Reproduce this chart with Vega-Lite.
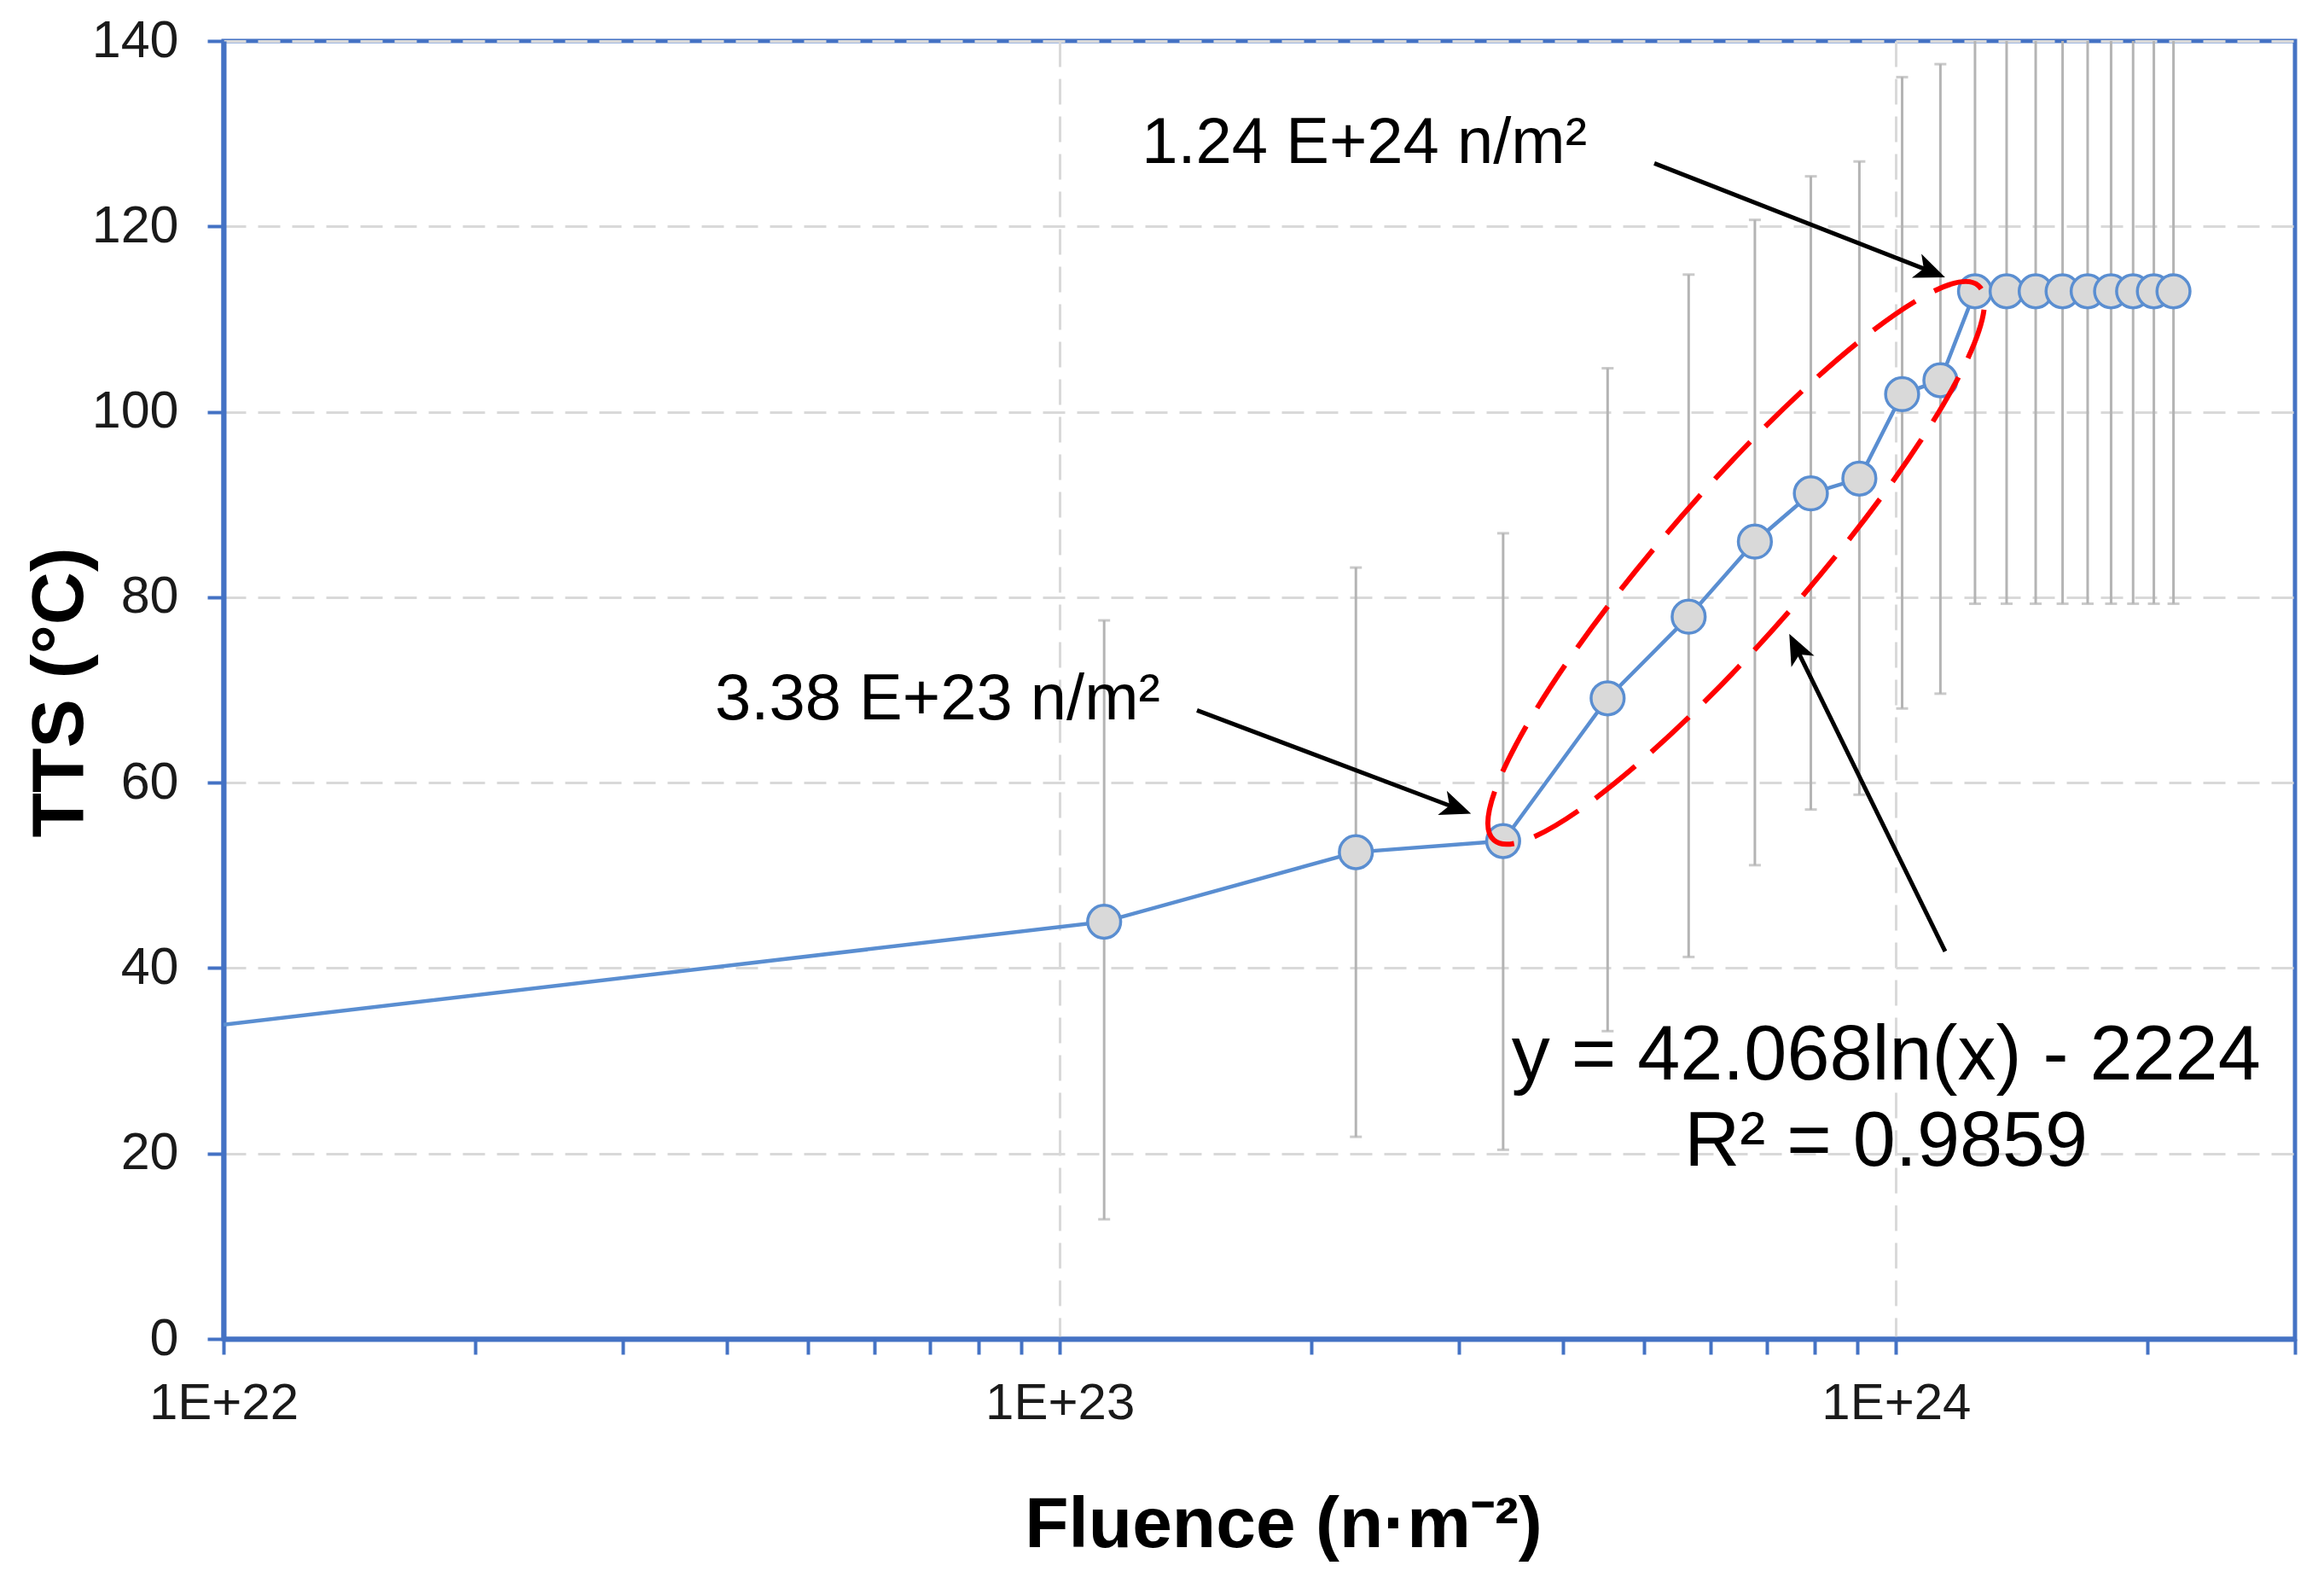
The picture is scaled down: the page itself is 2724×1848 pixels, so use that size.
{
  "$schema": "https://vega.github.io/schema/vega-lite/v6.json",
  "width": 2428,
  "height": 1521,
  "autosize": {"type": "none"},
  "padding": {"left": 262, "top": 48, "right": 34, "bottom": 279},
  "background": "white",
  "config": {
    "view": {"stroke": "#4472c4", "strokeWidth": 5},
    "font": "Liberation Sans"
  },
  "datasets": {
    "series": [
      {"fluence": 1e22, "tts": 33.9, "lo": null, "hi": null},
      {"fluence": 1.13e23, "tts": 45.0, "lo": 12.9, "hi": 77.5},
      {"fluence": 2.26e23, "tts": 52.5, "lo": 21.8, "hi": 83.2},
      {"fluence": 3.39e23, "tts": 53.7, "lo": 20.4, "hi": 86.9},
      {"fluence": 4.52e23, "tts": 69.1, "lo": 33.2, "hi": 104.7},
      {"fluence": 5.65e23, "tts": 77.9, "lo": 41.2, "hi": 114.8},
      {"fluence": 6.78e23, "tts": 86.0, "lo": 51.1, "hi": 120.7},
      {"fluence": 7.91e23, "tts": 91.2, "lo": 57.1, "hi": 125.4},
      {"fluence": 9.04e23, "tts": 92.8, "lo": 58.7, "hi": 127.0},
      {"fluence": 1.017e24, "tts": 101.9, "lo": 68.0, "hi": 136.1},
      {"fluence": 1.13e24, "tts": 103.4, "lo": 69.6, "hi": 137.5},
      {"fluence": 1.243e24, "tts": 113.0, "lo": 79.3, "hi": 146.7},
      {"fluence": 1.356e24, "tts": 113.0, "lo": 79.3, "hi": 146.7},
      {"fluence": 1.469e24, "tts": 113.0, "lo": 79.3, "hi": 146.7},
      {"fluence": 1.582e24, "tts": 113.0, "lo": 79.3, "hi": 146.7},
      {"fluence": 1.695e24, "tts": 113.0, "lo": 79.3, "hi": 146.7},
      {"fluence": 1.808e24, "tts": 113.0, "lo": 79.3, "hi": 146.7},
      {"fluence": 1.921e24, "tts": 113.0, "lo": 79.3, "hi": 146.7},
      {"fluence": 2.034e24, "tts": 113.0, "lo": 79.3, "hi": 146.7},
      {"fluence": 2.147e24, "tts": 113.0, "lo": 79.3, "hi": 146.7}
    ],
    "arrows": [
      {"name": "a1", "x1": 5.14e23, "y1": 126.8, "x2": 1.096e24, "y2": 115.2},
      {"name": "a2", "x1": 1.459e23, "y1": 67.8, "x2": 2.97e23, "y2": 57.3},
      {"name": "a3", "x1": 1.145e24, "y1": 41.8, "x2": 7.61e23, "y2": 74.4}
    ],
    "ellipse": [{"fluence": 6.44e23, "tts": 83.7}],
    "labels": [
      {"text": "1.24 E+24 n/m²", "fluence": 1.253e23, "tts": 126.8},
      {"text": "3.38 E+23 n/m²", "fluence": 3.87e22, "tts": 66.8}
    ],
    "fit": [
      {"text": "y = 42.068ln(x) - 2224", "fluence": 9.73e23, "tts": 28.0},
      {"text": "R² = 0.9859", "fluence": 9.73e23, "tts": 18.7}
    ]
  },
  "layer": [
    {
      "data": {"name": "series"},
      "transform": [{"filter": "isValid(datum.lo)"}],
      "mark": {"type": "rule", "color": "#b4b4b4", "strokeWidth": 3, "clip": true},
      "encoding": {
        "x": {
          "field": "fluence", "type": "quantitative",
          "scale": {"type": "log", "domain": [1e22, 3e24], "nice": false},
          "axis": {
            "values": [1e22, 2e22, 3e22, 4e22, 5e22, 6e22, 7e22, 8e22, 9e22, 1e23, 2e23, 3e23, 4e23, 5e23, 6e23, 7e23, 8e23, 9e23, 1e24, 2e24, 3e24],
            "labelExpr": "datum.value == 1e22 ? '1E+22' : datum.value == 1e23 ? '1E+23' : datum.value == 1e24 ? '1E+24' : ''",
            "labelFont": "Liberation Sans", "labelFontSize": 60, "labelColor": "#1a1a1a",
            "labelPadding": 28, "labelBaseline": "top", "labelOverlap": false, "labelFlush": false,
            "tickColor": "#4472c4", "tickSize": 18, "tickWidth": 4,
            "domainColor": "#4472c4", "domainWidth": 6,
            "grid": true, "gridColor": "#d9d9d9", "gridWidth": 3, "gridDash": [30, 14],
            "gridOpacity": {"condition": {"test": "datum.value == 1e23 || datum.value == 1e24", "value": 1}, "value": 0},
            "title": "Fluence (n·m⁻²)",
            "titleFont": "Liberation Sans", "titleFontSize": 84, "titleFontWeight": "bold", "titleColor": "black",
            "titleX": 1242, "titleY": 243, "titleBaseline": "alphabetic", "titleAlign": "center"
          }
        },
        "y": {
          "field": "lo", "type": "quantitative",
          "scale": {"domain": [0, 140], "nice": false},
          "axis": {
            "values": [0, 20, 40, 60, 80, 100, 120, 140],
            "labelFont": "Liberation Sans", "labelFontSize": 61, "labelColor": "#1a1a1a", "labelPadding": 34,
            "tickColor": "#4472c4", "tickSize": 19, "tickWidth": 4,
            "domainColor": "#4472c4", "domainWidth": 6,
            "grid": true, "gridColor": "#d9d9d9", "gridWidth": 3, "gridDash": [26, 14],
            "title": "TTS (°C)",
            "titleFont": "Liberation Sans", "titleFontSize": 86, "titleFontWeight": "bold", "titleColor": "black",
            "titleX": -148, "titleY": 763, "titleAngle": -90, "titleBaseline": "bottom", "titleAlign": "center"
          }
        },
        "y2": {"field": "hi"}
      }
    },
    {
      "data": {"name": "series"},
      "transform": [{"filter": "isValid(datum.lo)"}],
      "mark": {"type": "tick", "orient": "horizontal", "size": 14, "thickness": 3, "color": "#b4b4b4", "clip": true},
      "encoding": {
        "x": {"field": "fluence", "type": "quantitative", "scale": {"type": "log"}},
        "y": {"field": "lo", "type": "quantitative"}
      }
    },
    {
      "data": {"name": "series"},
      "transform": [{"filter": "isValid(datum.hi)"}],
      "mark": {"type": "tick", "orient": "horizontal", "size": 14, "thickness": 3, "color": "#b4b4b4", "clip": true},
      "encoding": {
        "x": {"field": "fluence", "type": "quantitative", "scale": {"type": "log"}},
        "y": {"field": "hi", "type": "quantitative"}
      }
    },
    {
      "data": {"name": "series"},
      "mark": {"type": "line", "color": "#5a8ed1", "strokeWidth": 4.5, "clip": true},
      "encoding": {
        "x": {"field": "fluence", "type": "quantitative", "scale": {"type": "log"}},
        "y": {"field": "tts", "type": "quantitative"}
      }
    },
    {
      "data": {"name": "series"},
      "transform": [{"filter": "isValid(datum.lo)"}],
      "mark": {"type": "point", "shape": "circle", "filled": true, "fill": "#d9d9d9", "stroke": "#5a8ed1", "strokeWidth": 3.5, "size": 1500, "opacity": 1},
      "encoding": {
        "x": {"field": "fluence", "type": "quantitative", "scale": {"type": "log"}},
        "y": {"field": "tts", "type": "quantitative"}
      }
    },
    {
      "data": {"name": "ellipse"},
      "mark": {
        "type": "point",
        "shape": "M-1,0 C-1,-0.108 -0.5523,-0.195 0,-0.195 C0.5523,-0.195 1,-0.108 1,0 C1,0.108 0.5523,0.195 0,0.195 C-0.5523,0.195 -1,0.108 -1,0 Z",
        "filled": false, "stroke": "#ff0000", "strokeWidth": 6, "strokeDash": [60, 25],
        "size": 744769, "angle": 311.15, "opacity": 1
      },
      "encoding": {
        "x": {"field": "fluence", "type": "quantitative", "scale": {"type": "log"}},
        "y": {"field": "tts", "type": "quantitative"}
      }
    },
    {
      "data": {"name": "arrows"},
      "mark": {"type": "rule", "color": "black", "strokeWidth": 5},
      "encoding": {
        "x": {"field": "x1", "type": "quantitative", "scale": {"type": "log"}},
        "y": {"field": "y1", "type": "quantitative"},
        "x2": {"field": "x2"},
        "y2": {"field": "y2"}
      }
    },
    {
      "data": {"name": "arrows"},
      "transform": [{"filter": "datum.name == 'a1'"}],
      "mark": {"type": "point", "shape": "M0,-1 L0.75,0.8 L0,0.35 L-0.75,0.8 Z", "filled": true, "color": "black", "size": 1600, "angle": 111.9, "opacity": 1},
      "encoding": {
        "x": {"field": "x2", "type": "quantitative", "scale": {"type": "log"}},
        "y": {"field": "y2", "type": "quantitative"}
      }
    },
    {
      "data": {"name": "arrows"},
      "transform": [{"filter": "datum.name == 'a2'"}],
      "mark": {"type": "point", "shape": "M0,-1 L0.75,0.8 L0,0.35 L-0.75,0.8 Z", "filled": true, "color": "black", "size": 1600, "angle": 110.6, "opacity": 1},
      "encoding": {
        "x": {"field": "x2", "type": "quantitative", "scale": {"type": "log"}},
        "y": {"field": "y2", "type": "quantitative"}
      }
    },
    {
      "data": {"name": "arrows"},
      "transform": [{"filter": "datum.name == 'a3'"}],
      "mark": {"type": "point", "shape": "M0,-1 L0.75,0.8 L0,0.35 L-0.75,0.8 Z", "filled": true, "color": "black", "size": 1600, "angle": 333.8, "opacity": 1},
      "encoding": {
        "x": {"field": "x2", "type": "quantitative", "scale": {"type": "log"}},
        "y": {"field": "y2", "type": "quantitative"}
      }
    },
    {
      "data": {"name": "labels"},
      "mark": {"type": "text", "align": "left", "baseline": "alphabetic", "font": "Liberation Sans", "fontSize": 76, "color": "black"},
      "encoding": {
        "x": {"field": "fluence", "type": "quantitative", "scale": {"type": "log"}},
        "y": {"field": "tts", "type": "quantitative"},
        "text": {"field": "text"}
      }
    },
    {
      "data": {"name": "fit"},
      "mark": {"type": "text", "align": "center", "baseline": "alphabetic", "font": "Liberation Sans", "fontSize": 90, "color": "black"},
      "encoding": {
        "x": {"field": "fluence", "type": "quantitative", "scale": {"type": "log"}},
        "y": {"field": "tts", "type": "quantitative"},
        "text": {"field": "text"}
      }
    }
  ]
}
